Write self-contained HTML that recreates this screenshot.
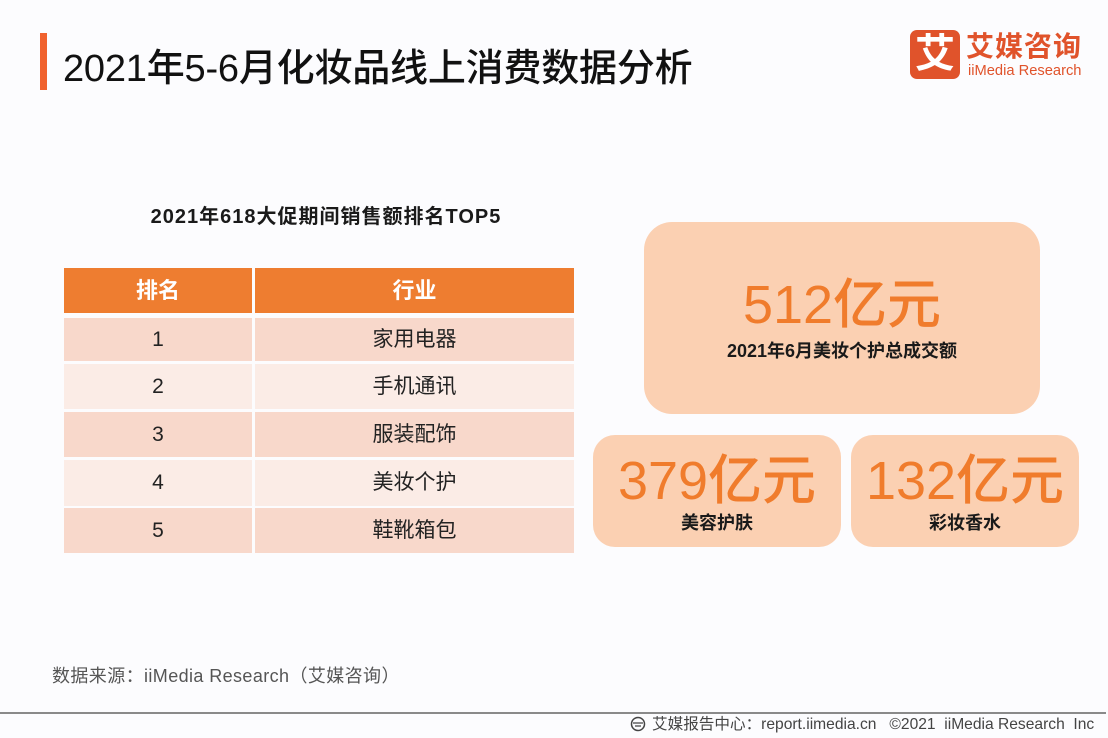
<!DOCTYPE html>
<html><head><meta charset="utf-8">
<style>
*{margin:0;padding:0;box-sizing:border-box}
body{width:1108px;height:738px;background:#fcfcfe;position:relative;overflow:hidden;font-family:"Liberation Sans","Noto Sans CJK SC",sans-serif;}
.a{position:absolute;white-space:nowrap}
.bar{left:40px;top:33px;width:7px;height:57px;background:#f0622e}
.title{left:63px;top:46px;font-size:38px;line-height:46px;color:#111;font-weight:500;letter-spacing:-0.2px}
.logo{left:910px;top:30px;width:50px;height:49px;background:#e0532b;border-radius:7px;color:#fff;font-size:40px;line-height:49px;text-align:center;font-weight:700}
.lg1{left:966px;top:30px;font-size:28px;line-height:34px;color:#e0532b;font-weight:700;letter-spacing:1px}
.lg2{left:968px;top:62px;font-size:14.7px;line-height:18px;color:#e0532b}
.sub{left:140px;top:204px;width:372px;text-align:center;font-size:20px;line-height:26px;font-weight:700;color:#1a1a1a;letter-spacing:1px}
.cell{position:absolute;text-align:center;color:#222;font-size:21px}
.h{background:#ee7d30;color:#fff;font-weight:700;font-size:22px}
.o{background:#f8d8cb}
.e{background:#fbece6}
.box{position:absolute;background:#fbd0b2;text-align:center}
.big{color:#f07c2c;font-weight:500}
.lab{color:#1a1a1a;font-weight:700}
.src{left:52px;top:664px;font-size:18px;line-height:24px;color:#555;letter-spacing:0.4px}
.line{left:0;top:712px;width:1106px;height:2px;background:#8a8a8a}
.foot{left:652px;top:715px;font-size:15.6px;line-height:20px;color:#444}
</style></head><body>
<div class="a bar"></div>
<div class="a title">2021年5-6月化妆品线上消费数据分析</div>
<div class="a logo">艾</div>
<div class="a lg1">艾媒咨询</div>
<div class="a lg2">iiMedia Research</div>

<div class="a sub">2021年618大促期间销售额排名TOP5</div>

<div class="cell h" style="left:64px;top:268px;width:188px;height:45px;line-height:45px">排名</div>
<div class="cell h" style="left:255px;top:268px;width:319px;height:45px;line-height:45px">行业</div>

<div class="cell o" style="left:64px;top:318px;width:188px;height:43px;line-height:43px">1</div>
<div class="cell o" style="left:255px;top:318px;width:319px;height:43px;line-height:43px">家用电器</div>
<div class="cell e" style="left:64px;top:364px;width:188px;height:45px;line-height:45px">2</div>
<div class="cell e" style="left:255px;top:364px;width:319px;height:45px;line-height:45px">手机通讯</div>
<div class="cell o" style="left:64px;top:412px;width:188px;height:45px;line-height:45px">3</div>
<div class="cell o" style="left:255px;top:412px;width:319px;height:45px;line-height:45px">服装配饰</div>
<div class="cell e" style="left:64px;top:460px;width:188px;height:46px;line-height:46px">4</div>
<div class="cell e" style="left:255px;top:460px;width:319px;height:46px;line-height:46px">美妆个护</div>
<div class="cell o" style="left:64px;top:508px;width:188px;height:45px;line-height:45px">5</div>
<div class="cell o" style="left:255px;top:508px;width:319px;height:45px;line-height:45px">鞋靴箱包</div>

<div class="box" style="left:644px;top:222px;width:396px;height:192px;border-radius:28px">
  <div class="big" style="position:absolute;left:0;right:0;top:50px;font-size:54px;line-height:66px">512亿元</div>
  <div class="lab" style="position:absolute;left:0;right:0;top:117px;font-size:18px;line-height:24px">2021年6月美妆个护总成交额</div>
</div>
<div class="box" style="left:593px;top:435px;width:248px;height:112px;border-radius:22px">
  <div class="big" style="position:absolute;left:0;right:0;top:13px;font-size:54px;line-height:66px">379亿元</div>
  <div class="lab" style="position:absolute;left:0;right:0;top:76px;font-size:18px;line-height:24px">美容护肤</div>
</div>
<div class="box" style="left:851px;top:435px;width:228px;height:112px;border-radius:22px">
  <div class="big" style="position:absolute;left:0;right:0;top:13px;font-size:54px;line-height:66px">132亿元</div>
  <div class="lab" style="position:absolute;left:0;right:0;top:76px;font-size:18px;line-height:24px">彩妆香水</div>
</div>

<div class="a src">数据来源：iiMedia Research（艾媒咨询）</div>
<div class="a line"></div>
<svg class="a" style="left:630px;top:716px" width="16" height="16" viewBox="0 0 16 16"><circle cx="8" cy="8" r="6.5" fill="none" stroke="#444" stroke-width="1.5"/><path d="M3 7h10M5 10h6" stroke="#444" stroke-width="1.3"/></svg>
<div class="a foot">艾媒报告中心：report.iimedia.cn&nbsp;&nbsp;&nbsp;©2021&nbsp;&nbsp;iiMedia Research&nbsp;&nbsp;Inc</div>
</body></html>
